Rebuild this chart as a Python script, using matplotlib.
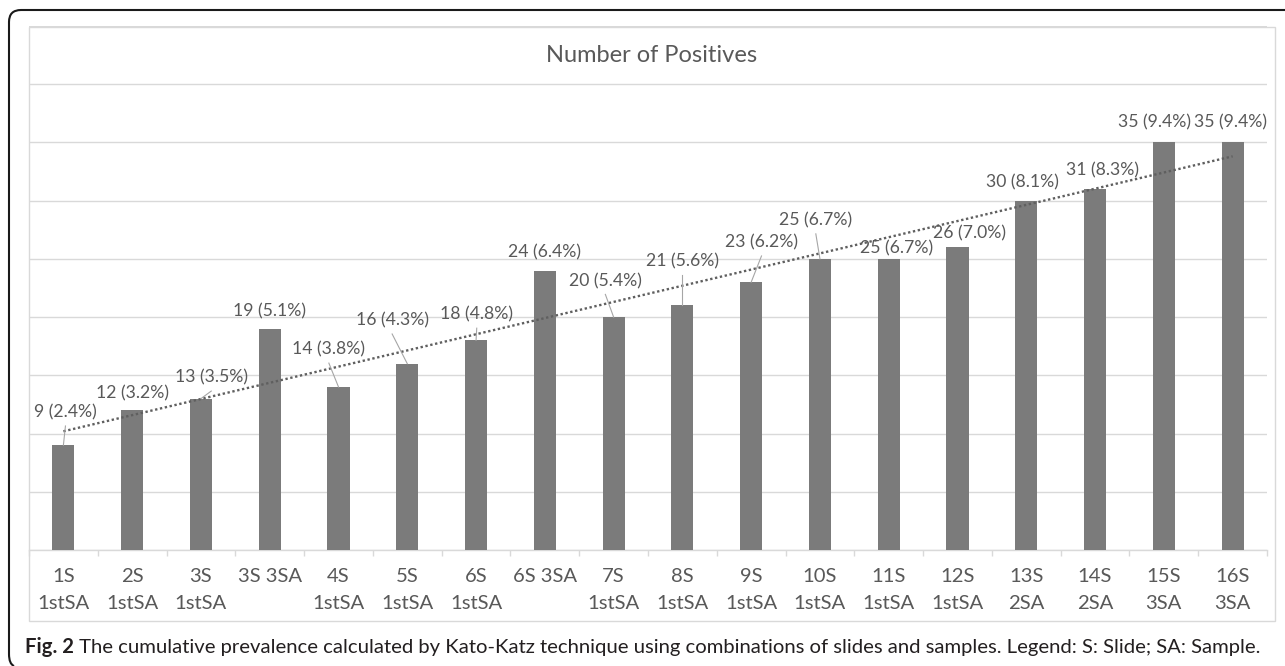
import matplotlib
matplotlib.use('Agg')
import matplotlib.pyplot as plt
import numpy as np
from matplotlib.path import Path
from matplotlib.patches import PathPatch, Rectangle

plt.rcParams['font.family'] = ['Lato', 'DejaVu Sans']

# Data
categories = ['1S\n1stSA', '2S\n1stSA', '3S\n1stSA', '3S 3SA', '4S\n1stSA', '5S\n1stSA',
              '6S\n1stSA', '6S 3SA', '7S\n1stSA', '8S\n1stSA', '9S\n1stSA', '10S\n1stSA',
              '11S\n1stSA', '12S\n1stSA', '13S\n2SA', '14S\n2SA', '15S\n3SA', '16S\n3SA']
positives = [9, 12, 13, 19, 14, 16, 18, 24, 20, 21, 23, 25, 25, 26, 30, 31, 35, 35]
percent = [2.4, 3.2, 3.5, 5.1, 3.8, 4.3, 4.8, 6.4, 5.4, 5.6, 6.2, 6.7, 6.7, 7.0, 8.1, 8.3, 9.4, 9.4]

# label placement (dx in categories, dy in values) and which ones get a leader line
label_dx = [0.03, 0.0, 0.15, 0.0, -0.14, -0.22, 0.01, 0.0, -0.12, 0.0, 0.15, -0.06,
            0.12, 0.17, -0.05, 0.11, -0.13, -0.03]
label_dy = [2.8, 1.45, 1.8, 1.5, 3.2, 3.7, 2.2, 1.6, 3.1, 3.8, 3.4, 3.3,
            0.9, 1.2, 1.6, 1.6, 1.7, 1.7]
leader = [True, False, True, False, True, True, True, False, True, True, True, True,
          False, False, False, False, False, False]

W, H = 1285, 666
fig = plt.figure(figsize=(W / 100, H / 100), dpi=100)
ax = fig.add_axes([29 / W, (H - 550) / H, (1267 - 29) / W, (550 - 26) / H])

x = np.arange(len(positives))
ax.bar(x, positives, width=0.32, color='#7b7b7b', zorder=3)

# linear trendline
slope, icpt = np.polyfit(x, positives, 1)
ax.plot([x[0], x[-1]], [icpt, icpt + slope * x[-1]], color='#5f5f5f',
        linestyle=(0, (1, 1.1)), linewidth=1.7, zorder=4)

for i, v in enumerate(positives):
    lx, ly = i + label_dx[i], v + label_dy[i]
    ax.text(lx, ly, f'{v} ({percent[i]:.1f}%)', ha='center', va='center',
            fontsize=12.7, color='#595959', zorder=5)
    if leader[i]:
        ax.plot([i, lx], [v, ly - 1.15], color='#a6a6a6', linewidth=0.8, zorder=4)

ax.set_xlim(-0.5, len(positives) - 0.5)
ax.set_ylim(0, 45)
ax.set_yticks(np.arange(0, 46, 5))
ax.yaxis.grid(True, color='#d9d9d9', linewidth=1)
ax.set_axisbelow(True)
ax.tick_params(axis='y', left=False, labelleft=False)

ax.set_xticks(x)
ax.set_xticklabels(categories, fontsize=14.6, color='#595959', linespacing=1.7)
ax.set_xticks(np.arange(-0.5, len(positives), 1), minor=True)
ax.tick_params(axis='x', which='major', length=0, pad=13)
ax.tick_params(axis='x', which='minor', length=4.5, color='#d9d9d9', width=1)

for s in ['top', 'right', 'left']:
    ax.spines[s].set_visible(False)
ax.spines['bottom'].set_color('#d9d9d9')
ax.spines['bottom'].set_linewidth(1)

# chart area border
fig.patches.append(Rectangle((29 / W, (H - 621) / H), 1246 / W, 594 / H,
                             transform=fig.transFigure, fill=False,
                             edgecolor='#d9d9d9', linewidth=1))

fig.text(652 / W, (H - 55) / H, 'Number of Positives', ha='center', va='center',
         fontsize=17, color='#595959')

# outer frame (top and left, rounded corners)
pts = [(W, 10), (21, 10), (9, 10), (9, 22), (9, 654), (9, 664), (14, 666)]
codes = [Path.MOVETO, Path.LINETO, Path.CURVE3, Path.CURVE3, Path.LINETO,
         Path.CURVE3, Path.CURVE3]
frame = Path([(px / W, (H - py) / H) for px, py in pts], codes)
fig.patches.append(PathPatch(frame, transform=fig.transFigure, fill=False,
                             edgecolor='#1a1a1a', linewidth=1.5))

# caption
t1 = fig.text(25 / W, (H - 647) / H, 'Fig. 2', fontweight='bold', fontsize=14.6,
              color='#231f20', va='center', ha='left')
ax.annotate(' The cumulative prevalence calculated by Kato-Katz technique using combinations '
            'of slides and samples. Legend: S: Slide; SA: Sample.',
            xy=(1, 0.5), xycoords=t1, va='center', ha='left', fontsize=14.6,
            color='#231f20', annotation_clip=False)

fig.savefig('out.png', dpi=100)
